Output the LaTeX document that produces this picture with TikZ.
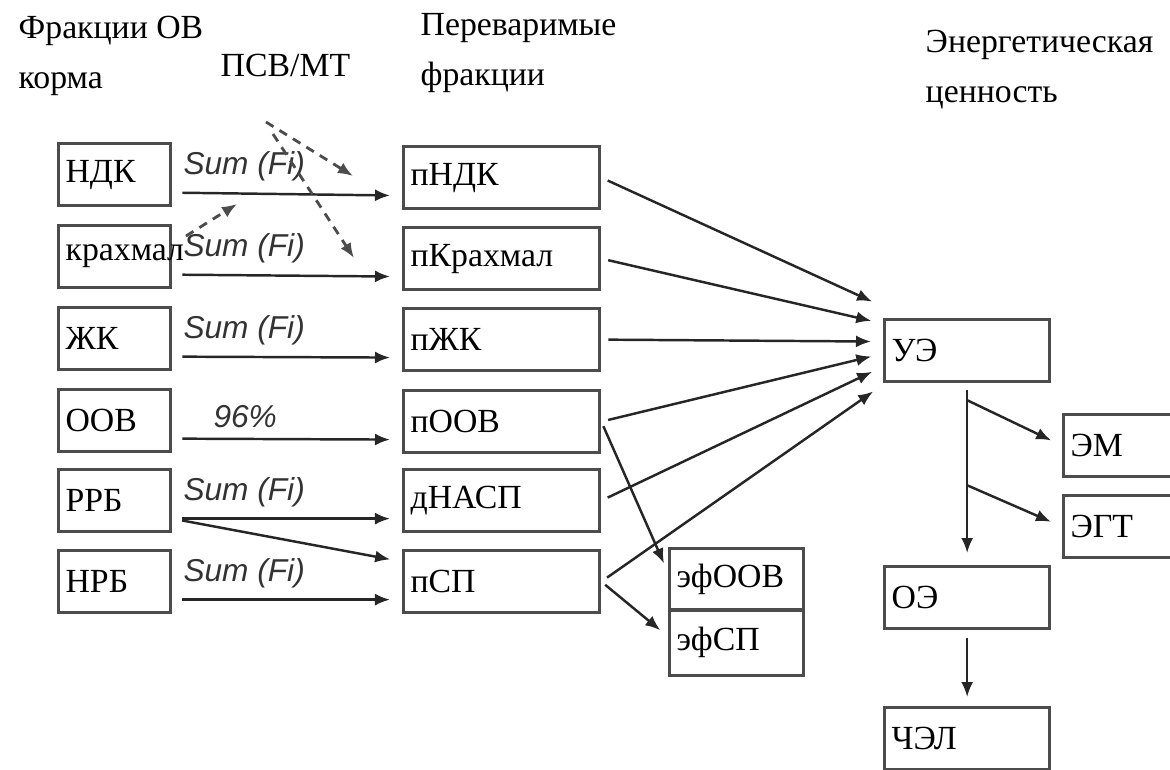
\documentclass[tikz,border=0pt]{standalone}
\usepackage{fontspec}
\setmainfont{Liberation Serif}
\newfontfamily\sumfont{Liberation Sans}
\usetikzlibrary{arrows.meta}

\begin{document}
\begin{tikzpicture}[x=0.01cm, y=-0.01cm,
  every node/.style={font=\fontsize{9.6}{14.2}\selectfont},
  box/.style={draw=black!70, line width=0.9pt, anchor=north west, minimum height=0.62cm, inner xsep=2pt, inner ysep=0pt, align=left},
  srcbox/.style={box, text width=0.98cm},
  digbox/.style={box, text width=1.82cm},
  efbox/.style={box, text width=1.2cm},
  enbox/.style={box, text width=1.51cm},
  outbox/.style={box, text width=1.3cm},
  head/.style={anchor=north west, inner sep=0pt, align=left},
  sumlbl/.style={font=\sumfont\itshape\fontsize{9}{10}\selectfont, text=black!80, anchor=south west, inner sep=0pt, yshift=1mm, xshift=1mm},
  flow/.style={draw=black!85, line width=0.7pt, -{Latex[length=1.5mm,width=1.2mm]}},
  psv/.style={flow, draw=black!70, line width=0.8pt, dash pattern=on 2.5pt off 2pt}]
\path[use as bounding box, clip] (0,0) rectangle (1170,769);

\node[head] (hsrc) at (18,15) {Фракции ОВ\\корма};
\node[head] (hpsv) at (220,53) {ПСВ/МТ};
\node[head] (hdig) at (420,13) {Переваримые\\фракции};
\node[head] (hen) at (925,29) {Энергетическая\\ценность};

\node[srcbox] (ndk) at (57,142) {НДК};
\node[srcbox] (krah) at (57,224) {крахмал};
\node[srcbox] (zhk) at (57,306) {ЖК};
\node[srcbox] (oov) at (57,388) {ООВ};
\node[srcbox] (rrb) at (57,468) {РРБ};
\node[srcbox] (nrb) at (57,549) {НРБ};

\node[digbox] (pndk) at (402,145) {пНДК};
\node[digbox] (pkrah) at (402,226) {пКрахмал};
\node[digbox] (pzhk) at (402,307) {пЖК};
\node[digbox] (poov) at (402,389) {пООВ};
\node[digbox] (dnasp) at (402,468) {дНАСП};
\node[digbox] (psp) at (402,549) {пСП};

\node[efbox] (efoov) at (668,547) {эфООВ};
\node[efbox, minimum height=0.66cm] (efsp) at (668,608) {эфСП};

\node[enbox] (ue) at (883,318) {УЭ};
\node[outbox] (em) at (1062,413) {ЭМ};
\node[outbox] (egt) at (1062,494) {ЭГТ};
\node[enbox] (oe) at (883,565) {ОЭ};
\node[enbox] (chel) at (883,706) {ЧЭЛ};

\draw[flow, shorten <=1mm, shorten >=1.2mm] ([yshift=-1.8mm]ndk.east) -- ([yshift=-1.8mm]pndk.west) node[sumlbl, pos=0] (sndk) {Sum (Fi)};
\draw[flow, shorten <=1mm, shorten >=1.2mm] ([yshift=-1.8mm]krah.east) -- ([yshift=-1.8mm]pkrah.west) node[sumlbl, pos=0] (skrah) {Sum (Fi)};
\draw[flow, shorten <=1mm, shorten >=1.2mm] ([yshift=-1.8mm]zhk.east) -- ([yshift=-1.8mm]pzhk.west) node[sumlbl, pos=0] (szhk) {Sum (Fi)};
\draw[flow, shorten <=1mm, shorten >=1.2mm] ([yshift=-1.8mm]oov.east) -- ([yshift=-1.8mm]poov.west) node[sumlbl, pos=0, xshift=3mm] (soov) {96\%};
\draw[flow, shorten <=1mm, shorten >=1.2mm] ([yshift=-1.8mm]rrb.east) -- ([yshift=-1.8mm]dnasp.west) node[sumlbl, pos=0] (srrb) {Sum (Fi)};
\draw[flow, shorten <=1mm, shorten >=1.2mm] ([yshift=-1.8mm]rrb.east) -- ([yshift=2mm]psp.west);
\draw[flow, shorten <=1mm, shorten >=1.2mm] ([yshift=-1.8mm]nrb.east) -- ([yshift=-1.8mm]psp.west) node[sumlbl, pos=0] (snrb) {Sum (Fi)};

\coordinate (psva) at (266,122);
\coordinate (psvb) at (273,134);
\coordinate (psvc) at (186,236);
\coordinate (psvae) at (353,176);
\coordinate (psvbe) at (354,258);
\coordinate (psvce) at (237,204);
\draw[psv] (psva) -- (psvae);
\draw[psv] (psvb) -- (psvbe);
\draw[psv] (psvc) -- (psvce);

\draw[flow, shorten <=0.7mm, shorten >=1.2mm] (pndk.east) -- ([yshift=4.4mm]ue.west);
\draw[flow, shorten <=0.7mm, shorten >=1.2mm] (pkrah.east) -- ([yshift=2.7mm]ue.west);
\draw[flow, shorten <=0.7mm, shorten >=1.2mm] (pzhk.east) -- ([yshift=0.9mm]ue.west);
\draw[flow, shorten <=0.7mm, shorten >=1.2mm] (poov.east) -- ([yshift=-0.3mm]ue.west);
\draw[flow, shorten <=0.7mm, shorten >=1.2mm] (dnasp.east) -- ([yshift=-1.6mm]ue.west);
\draw[flow, shorten <=0.7mm, shorten >=1.2mm] (psp.east) -- ([yshift=-3.4mm]ue.west);
\draw[flow, shorten <=0.5mm, shorten >=1mm] (poov.east) -- ([yshift=0.7mm]efoov.west);
\draw[flow, shorten <=0.5mm, shorten >=1mm] (psp.east) -- ([yshift=0.6mm]efsp.west);

\coordinate (bra) at ([yshift=-1.7mm]ue.south);
\coordinate (brb) at ([yshift=-10.2mm]ue.south);
\draw[flow, shorten <=0.7mm, shorten >=1.2mm] (ue.south) -- (oe.north);
\draw[flow, shorten >=1.2mm] (bra) -- (em.west);
\draw[flow, shorten >=1.2mm] (brb) -- (egt.west);
\draw[flow, shorten <=0.8mm, shorten >=0.9mm] (oe.south) -- (chel.north);
\end{tikzpicture}
\end{document}
